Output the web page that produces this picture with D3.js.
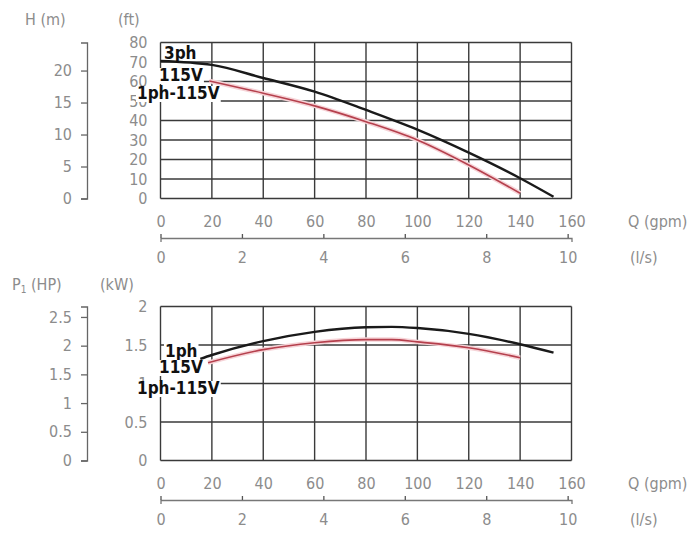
<!DOCTYPE html>
<html>
<head>
<meta charset="utf-8">
<script src="https://cdn.jsdelivr.net/npm/d3@7/dist/d3.min.js"></script>
<style>
body { margin: 0; background: #fff; }
svg { display: block; }
.tk text, .unit { font-family: "DejaVu Sans Condensed", "DejaVu Sans", sans-serif; font-size: 16px; fill: #8c8c8c; }
.lbl { font-family: "DejaVu Sans Condensed", "DejaVu Sans", sans-serif; font-weight: bold; font-size: 17px; fill: #111; }
.grid line { stroke: #3a3a3a; stroke-width: 1.4; }
</style>
</head>
<body>
<div id="chart"></div>
<script>
// ticks
var gpmTicks = [0, 20, 40, 60, 80, 100, 120, 140, 160];
var lpsTicks = [0, 2, 4, 6, 8, 10];
var ftTicks = [0, 10, 20, 30, 40, 50, 60, 70, 80];
var mTicks = [0, 5, 10, 15, 20];
var kwTicks = [0, 0.5, 1, 1.5, 2];
var hpTicks = [0, 0.5, 1, 1.5, 2, 2.5];

// courbe H (ft) en fonction de Q (gpm)
var headQ_3ph = [0, 20, 40, 60, 80, 100, 120, 140, 153];
var head_3ph = [70.5, 68.5, 61.8, 54.8, 45.4, 35.3, 23.5, 10.4, 0.9];
var headQ_1ph = [19, 40, 60, 80, 100, 120, 140];
var head_1ph = [60.3, 54, 47.5, 39.4, 30, 17.2, 2.7];

// courbe puissance (kW)
var powQ_3ph = [15.5, 20, 40, 60, 80, 90, 100, 120, 140, 153];
var pow_3ph = [1.32, 1.37, 1.55, 1.67, 1.73, 1.735, 1.72, 1.645, 1.51, 1.40];
var powQ_1ph = [18.5, 40, 60, 80, 90, 100, 120, 140];
var pow_1ph = [1.27, 1.44, 1.53, 1.57, 1.57, 1.54, 1.465, 1.335];

var GPM_PER_LPS = 15.85, FT_PER_M = 3.28084, KW_PER_HP = 0.7457;

var width = 700, height = 535;
var svg = d3.select("#chart").append("svg")
    .attr("width", width)
    .attr("height", height);

var x = d3.scaleLinear().domain([0, 160]).range([160.5, 571.5]);
var xLps = d3.scaleLinear().domain([0, 160 / GPM_PER_LPS]).range([160.5, 571.5]);

function zip(a, b) { return a.map(function(v, i) { return [v, b[i]]; }); }

function panel(cfg) {
    var y = cfg.y;
    var g = svg.append("g");
    var bottom = y.range()[0], top = y.range()[1];

    // grille
    var grid = g.append("g").attr("class", "grid");
    grid.selectAll(".v").data(gpmTicks).enter().append("line")
        .attr("x1", function(d) { return x(d); }).attr("x2", function(d) { return x(d); })
        .attr("y1", top).attr("y2", bottom);
    grid.selectAll(".h").data(cfg.yTicks).enter().append("line")
        .attr("x1", x(0)).attr("x2", x(160))
        .attr("y1", function(d) { return y(d); }).attr("y2", function(d) { return y(d); });

    // axe secondaire gauche (m ou HP)
    var ax2 = g.append("g").attr("class", "tk")
        .attr("transform", "translate(87,0)")
        .call(d3.axisLeft(cfg.y2).tickValues(cfg.y2Ticks).tickSize(6).tickPadding(9)
            .tickFormat(function(d) { return String(d); }));
    ax2.select(".domain").attr("stroke", "#666").attr("stroke-width", 1.3);
    ax2.selectAll(".tick line").attr("stroke", "#666").attr("stroke-width", 1.3);

    // axe principal gauche (ft ou kW)
    var ax1 = g.append("g").attr("class", "tk")
        .attr("transform", "translate(" + x(0) + ",0)")
        .call(d3.axisLeft(y).tickValues(cfg.yTicks).tickSize(0).tickPadding(13)
            .tickFormat(function(d) { return String(d); }));
    ax1.select(".domain").remove();

    // axe Q gpm
    var axq = g.append("g").attr("class", "tk")
        .attr("transform", "translate(0," + bottom + ")")
        .call(d3.axisBottom(x).tickValues(gpmTicks).tickSize(0).tickPadding(17));
    axq.select(".domain").remove();

    // axe l/s
    var axl = g.append("g").attr("class", "tk")
        .attr("transform", "translate(0," + (bottom + 39.5) + ")")
        .call(d3.axisBottom(xLps).tickValues(lpsTicks).tickSizeInner(-4).tickSizeOuter(4).tickPadding(14));
    axl.select(".domain").attr("stroke", "#777").attr("stroke-width", 1.3);
    axl.selectAll(".tick line").attr("stroke", "#555").attr("stroke-width", 1.3);

    g.append("text").attr("class", "unit").attr("x", 628).attr("y", bottom + 23).attr("dy", "0.35em").text("Q (gpm)");
    g.append("text").attr("class", "unit").attr("x", 630).attr("y", bottom + 59).attr("dy", "0.35em").text("(l/s)");

    // courbes
    var line = d3.line()
        .x(function(d) { return x(d[0]); })
        .y(function(d) { return y(d[1]); })
        .curve(d3.curveMonotoneX);
    var red = zip(cfg.q1, cfg.v1), black = zip(cfg.q3, cfg.v3);
    g.append("path").attr("d", line(red)).attr("fill", "none")
        .attr("stroke", "#f6d3d7").attr("stroke-width", 4.5);
    g.append("path").attr("d", line(red)).attr("fill", "none")
        .attr("stroke", "#b5404d").attr("stroke-width", 1.6);
    g.append("path").attr("d", line(black)).attr("fill", "none")
        .attr("stroke", "#1a1a1a").attr("stroke-width", 2.4);

    // étiquettes
    cfg.labels.forEach(function(l) {
        var t = g.append("text").attr("class", "lbl")
            .attr("x", l.x).attr("y", l.y).text(l.t);
        if (l.bg) {
            var b = t.node().getBBox();
            g.insert("rect", function() { return t.node(); })
                .attr("x", b.x - 1).attr("y", l.y - 13).attr("width", b.width + 2).attr("height", 16)
                .attr("fill", "#fff");
        }
    });
    return g;
}

panel({
    y: d3.scaleLinear().domain([0, 80]).range([198.5, 42.5]),
    y2: d3.scaleLinear().domain([0, 80 / FT_PER_M]).range([198.5, 42.5]),
    yTicks: ftTicks, y2Ticks: mTicks,
    q3: headQ_3ph, v3: head_3ph, q1: headQ_1ph, v1: head_1ph,
    labels: [
        {t: "3ph", x: 164, y: 59, bg: false},
        {t: "115V", x: 159, y: 81, bg: true},
        {t: "1ph-115V", x: 137, y: 99, bg: true}
    ]
});

panel({
    y: d3.scaleLinear().domain([0, 2]).range([460.5, 306.5]),
    y2: d3.scaleLinear().domain([0, 2 / KW_PER_HP]).range([460.5, 306.5]),
    yTicks: kwTicks, y2Ticks: hpTicks,
    q3: powQ_3ph, v3: pow_3ph, q1: powQ_1ph, v1: pow_1ph,
    labels: [
        {t: "1ph", x: 165, y: 357, bg: true},
        {t: "115V", x: 159, y: 373, bg: true},
        {t: "1ph-115V", x: 137, y: 394, bg: true}
    ]
});

// unités en haut à gauche
svg.append("text").attr("class", "unit").attr("x", 25).attr("y", 19).attr("dy", "0.35em").text("H (m)");
svg.append("text").attr("class", "unit").attr("x", 118).attr("y", 19).attr("dy", "0.35em").text("(ft)");
var p = svg.append("text").attr("class", "unit").attr("x", 12).attr("y", 284).attr("dy", "0.35em");
p.append("tspan").text("P");
p.append("tspan").attr("font-size", "10px").attr("dy", "3").text("1");
p.append("tspan").attr("dy", "-3").text(" (HP)");
svg.append("text").attr("class", "unit").attr("x", 100).attr("y", 284).attr("dy", "0.35em").text("(kW)");
</script>
</body>
</html>
